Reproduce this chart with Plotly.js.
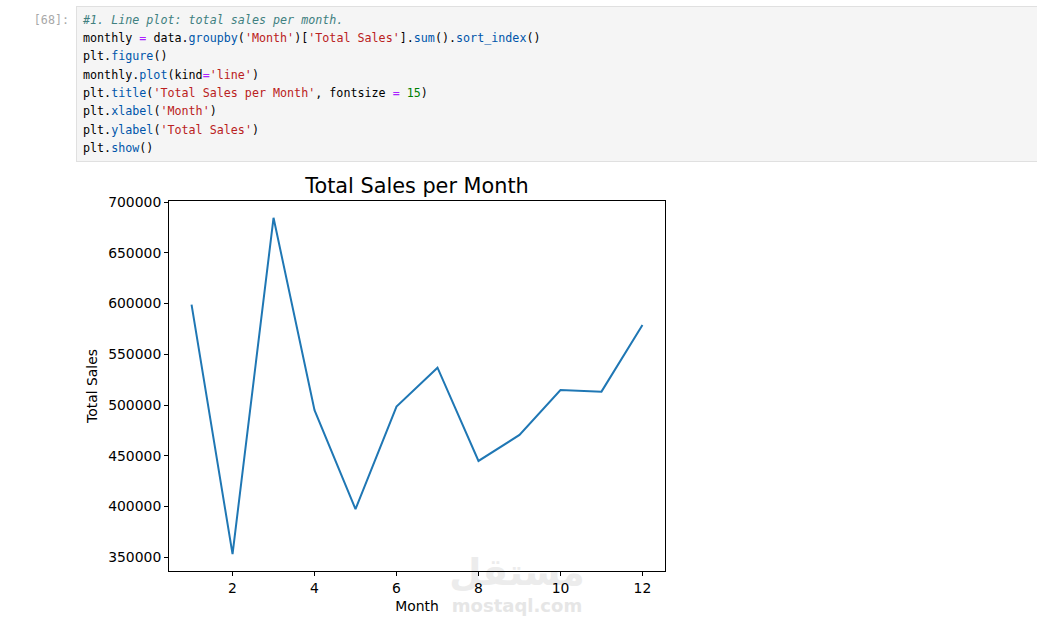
<!DOCTYPE html>
<html>
<head>
<meta charset="utf-8">
<script src="https://cdn.plot.ly/plotly-3.0.1.min.js"></script>
<style>
  html, body { margin: 0; padding: 0; background: #ffffff; width: 1037px; height: 627px; overflow: hidden; }
  #chart { position: absolute; left: 0; top: 0; width: 1037px; height: 627px; z-index: 1; }
  .wm { position: absolute; font-family: "DejaVu Sans", sans-serif; font-weight: bold; white-space: nowrap;
        text-align: center; z-index: 0; }
  #wm1 { left: 437px; top: 552px; width: 160px; font-size: 37px; line-height: 42px; color: #ececec; }
  #wm2 { left: 437px; top: 596px; width: 160px; font-size: 18px; line-height: 20px; color: #e6e6e6; }
  #prompt { position: absolute; left: 20px; top: 10.8px; width: 49px; text-align: right;
            font-family: "DejaVu Sans Mono", monospace; font-size: 11.7px;
            line-height: 18.3px; color: #a8a8a8; z-index: 2; }
  #cell { position: absolute; left: 76px; top: 6px; width: 980px; height: 154px;
          background: #f5f5f5; border: 1px solid #e0e0e0; z-index: 2; }
  #code { padding: 3.8px 0 0 6px; font-family: "DejaVu Sans Mono", monospace; font-size: 11.7px;
          line-height: 18.3px; color: #000; }
  #code div { white-space: pre; height: 18.3px; }
  .c { color: #408080; font-style: italic; }
  .o { color: #aa22ff; }
  .s { color: #ba2121; }
  .p { color: #0055aa; }
  .n { color: #008000; }
</style>
</head>
<body>
<div id="wm1" class="wm">مستقل</div>
<div id="wm2" class="wm">mostaql.com</div>
<div id="chart"></div>
<div id="prompt">[68]:</div>
<div id="cell"><div id="code"><div><span class="c">#1. Line plot: total sales per month.</span></div><div><span>monthly </span><span class="o">=</span><span> data.</span><span class="p">groupby</span><span>(</span><span class="s">'Month'</span><span>)[</span><span class="s">'Total Sales'</span><span>].</span><span class="p">sum</span><span>().</span><span class="p">sort_index</span><span>()</span></div><div><span>plt.</span><span class="p">figure</span><span>()</span></div><div><span>monthly.</span><span class="p">plot</span><span>(kind</span><span class="o">=</span><span class="s">'line'</span><span>)</span></div><div><span>plt.</span><span class="p">title</span><span>(</span><span class="s">'Total Sales per Month'</span><span>, fontsize </span><span class="o">=</span><span> </span><span class="n">15</span><span>)</span></div><div><span>plt.</span><span class="p">xlabel</span><span>(</span><span class="s">'Month'</span><span>)</span></div><div><span>plt.</span><span class="p">ylabel</span><span>(</span><span class="s">'Total Sales'</span><span>)</span></div><div><span>plt.</span><span class="p">show</span><span>()</span></div></div></div>
<script>
// ---- data ----
const months = [1, 2, 3, 4, 5, 6, 7, 8, 9, 10, 11, 12];
const totalSales = [599000, 353000, 684500, 495000, 397500, 498400, 536800, 444900, 470500, 514800, 513200, 578800];
const xTickVals = [2, 4, 6, 8, 10, 12];
const yTickVals = [350000, 400000, 450000, 500000, 550000, 600000, 650000, 700000];
const chartTitle = "Total Sales per Month";
const xLabel = "Month";
const yLabel = "Total Sales";

// matplotlib-style 5% autoscale margins
const xMin = Math.min(...months), xMax = Math.max(...months);
const yMin = Math.min(...totalSales), yMax = Math.max(...totalSales);
const xPad = (xMax - xMin) * 0.05, yPad = (yMax - yMin) * 0.05;

const trace = {
  x: months, y: totalSales, type: "scatter", mode: "lines",
  line: { color: "#1f77b4", width: 2 }, hoverinfo: "skip"
};

const axisBase = {
  showgrid: false, zeroline: false, showline: true, mirror: true,
  linecolor: "#000", linewidth: 1, ticks: "outside", ticklen: 4, tickwidth: 1,
  tickcolor: "#000", tickfont: { family: "DejaVu Sans", size: 13.9, color: "#000" },
  automargin: false, fixedrange: true
};

const layout = {
  width: 1037, height: 627,
  margin: { l: 169, r: 372, t: 201, b: 56 },
  paper_bgcolor: "rgba(0,0,0,0)", plot_bgcolor: "rgba(0,0,0,0)",
  showlegend: false,
  title: {
    text: chartTitle, x: 417 / 1037, xanchor: "center", xref: "container",
    y: 1 - 186 / 627, yanchor: "middle", yref: "container",
    font: { family: "DejaVu Sans", size: 20.8, color: "#000" }
  },
  xaxis: Object.assign({}, axisBase, {
    range: [xMin - xPad, xMax + xPad],
    tickmode: "array", tickvals: xTickVals, ticktext: xTickVals.map(String),
    title: { text: xLabel, standoff: 6, font: { family: "DejaVu Sans", size: 13.9, color: "#000" } }
  }),
  yaxis: Object.assign({}, axisBase, {
    range: [yMin - yPad, yMax + yPad],
    tickmode: "array", tickvals: yTickVals, ticktext: yTickVals.map(String),
    title: { text: yLabel, standoff: 7, font: { family: "DejaVu Sans", size: 13.9, color: "#000" } }
  })
};

Plotly.newPlot("chart", [trace], layout, { staticPlot: true, displayModeBar: false });
</script>
</body>
</html>
